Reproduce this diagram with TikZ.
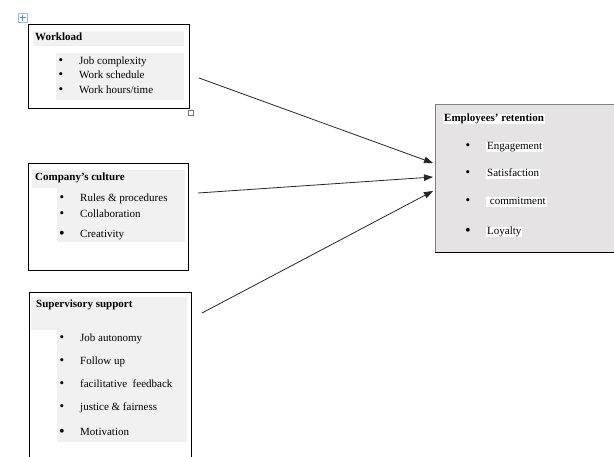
\documentclass[tikz,border=0pt]{standalone}
\usepackage{fontspec}
\setmainfont{Liberation Serif}
\usetikzlibrary{arrows.meta}
\definecolor{panelgray}{HTML}{F1F1F1}
\definecolor{retfill}{HTML}{E5E3E4}
\definecolor{iconblue}{HTML}{5B8BC9}
\tikzset{
  frame/.style={draw=black, line width=0.9pt},
  head/.style={anchor=west, inner sep=0pt, font=\fontsize{11}{13}\selectfont\bfseries, text height=8pt, text depth=2.5pt},
  item/.style={anchor=west, inner sep=0pt, font=\fontsize{11}{13}\selectfont, text height=8pt, text depth=2.5pt},
  bul/.style={anchor=center, inner sep=0pt, font=\fontsize{13}{15}\selectfont},
  bigbul/.style={anchor=center, inner sep=0pt, font=\fontsize{16}{18}\selectfont},
  hl/.style={fill=white, inner xsep=1pt},
  conn/.style={draw=black!85, line width=0.8pt, -{Triangle[length=9pt,width=6.5pt]}}
}
\begin{document}
\begin{tikzpicture}[x=1pt,y=-1pt]
\useasboundingbox (0,0) rectangle (614,456);
\begin{scope}
\clip (0,0) rectangle (614,456);
% ---------- Workload ----------
\fill[panelgray] (33,31) rectangle (184,46);
\fill[panelgray] (56,53) rectangle (184,100);
\draw[frame] (28,24) rectangle (189,108);
\node[head] (wl) at (35,38) {Workload};
\node[bul] (wb1) at (61,62) {\textbullet};
\node[bul] (wb2) at (61,76) {\textbullet};
\node[bul] (wb3) at (61,91) {\textbullet};
\node[item] (w1) at (79,62) {Job complexity};
\node[item] (w2) at (79,76) {Work schedule};
\node[item] (w3) at (79,91) {Work hours/time};
% move icon and resize handle
\draw[draw=iconblue!60, fill=white, line width=0.5pt] (18,13) rectangle (27,22);
\draw[iconblue, line width=0.7pt] (19.5,17.5) -- (25.5,17.5) (22.5,14.5) -- (22.5,20.5);
\draw[draw=black!55, fill=white, line width=0.5pt] (188,110) rectangle (193,115);
% ---------- Company's culture ----------
\fill[panelgray] (32,170) rectangle (185,188);
\fill[panelgray] (57,188) rectangle (185,242);
\draw[frame] (28,163) rectangle (188,270);
\node[head] (cc) at (35,178) {Company’s culture};
\node[bul] (cb1) at (62,199) {\textbullet};
\node[bul] (cb2) at (62,215) {\textbullet};
\node[bigbul] (cb3) at (62,235) {\textbullet};
\node[item] (c1) at (80,199) {Rules \& procedures};
\node[item] (c2) at (80,215) {Collaboration};
\node[item] (c3) at (80,235) {Creativity};
% ---------- Supervisory support ----------
\fill[panelgray] (31,297) rectangle (187,330);
\fill[panelgray] (57,330) rectangle (187,442);
\draw[frame] (29,292) rectangle (191,470);
\node[head] (ss) at (36,305) {Supervisory support};
\node[bul] (sb1) at (62,339) {\textbullet};
\node[bul] (sb2) at (62,362) {\textbullet};
\node[bul] (sb3) at (62,385) {\textbullet};
\node[bul] (sb4) at (62,408) {\textbullet};
\node[bigbul] (sb5) at (62,433) {\textbullet};
\node[item] (s1) at (80,339) {Job autonomy};
\node[item] (s2) at (80,362) {Follow up};
\node[item] (s3) at (80,385) {facilitative\ \ feedback};
\node[item] (s4) at (80,408) {justice \& fairness};
\node[item] (s5) at (80,433) {Motivation};
% ---------- Employees' retention ----------
\fill[retfill] (435,104) rectangle (620,252);
\draw[draw=black!50, line width=0.9pt] (620,104) -- (435,104) -- (435,252);
\draw[draw=black, line width=1pt] (435,252) -- (620,252);
\node[head, hl] (er) at (443,119) {Employees’ retention};
\node[bul] (eb1) at (468,147) {\textbullet};
\node[bul] (eb2) at (468,174) {\textbullet};
\node[bul] (eb3) at (468,202) {\textbullet};
\node[bigbul] (eb4) at (468,232) {\textbullet};
\node[item, hl] (e1) at (486,147) {Engagement};
\node[item, hl] (e2) at (486,174) {Satisfaction};
\node[item, hl] (e3) at (486,202) {\ commitment};
\node[item, hl] (e4) at (486,232) {Loyalty};
\end{scope}
% ---------- connectors ----------
\coordinate (a1s) at (199,78);
\coordinate (a2s) at (198,193);
\coordinate (a3s) at (202,313);
\coordinate (a1e) at (433,163);
\coordinate (a2e) at (433,177);
\coordinate (a3e) at (433,191);
\draw[conn] (a1s) -- (a1e);
\draw[conn] (a2s) -- (a2e);
\draw[conn] (a3s) -- (a3e);
\end{tikzpicture}
\end{document}
